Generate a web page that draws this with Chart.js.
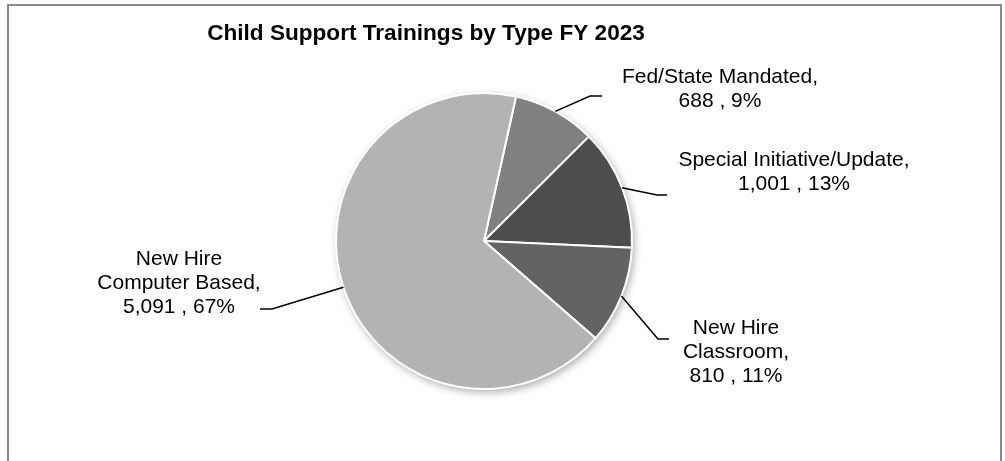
<!DOCTYPE html>
<html>
<head>
<meta charset="utf-8">
<title>Child Support Trainings by Type FY 2023</title>
<script src="https://cdn.jsdelivr.net/npm/chart.js@4.4.1/dist/chart.umd.min.js"></script>
<style>
  html, body { margin: 0; padding: 0; background: #fff; overflow: hidden; }
  #frame {
    position: absolute; left: 7px; top: 4px; width: 995px; height: 520px;
    border: 2px solid #8a8a8a; box-sizing: border-box;
  }
  #wrap { position: absolute; left: 0; top: 0; width: 1005px; height: 461px; }
</style>
</head>
<body>
<div id="frame"></div>
<div id="wrap"><canvas id="chart-trainings" width="1005" height="461"></canvas></div>
<script>
(function () {
  'use strict';

  var titleText = 'Child Support Trainings by Type FY 2023';
  var categories = ['Fed/State Mandated', 'Special Initiative/Update', 'New Hire\nClassroom', 'New Hire\nComputer Based'];
  var trainings = [688, 1001, 810, 5091];

  var sliceColors = ['#808080', '#4d4d4d', '#636363', '#b3b3b3'];
  var labelFont = '21px "Liberation Sans", Arial, sans-serif';
  var lineGap = 24;

  // label placement relative to pie centre: [centre x, first baseline]
  var labelPos = [[236, -158], [310, -75], [252, 93], [-305, 24]];
  // leader lines: elbow and end point relative to pie centre
  var leaderElbow = [[106, -145], [173, -46], [174, 98], [-212, 68]];
  var leaderEnd = [[118, -145], [183, -46], [185, 98], [-224, 68]];

  function labelLines(i, total) {
    var pct = Math.round(trainings[i] / total * 100);
    var lines = categories[i].split('\n');
    lines[lines.length - 1] += ',';
    lines.push(trainings[i].toLocaleString('en-US') + ' , ' + pct + '%');
    return lines;
  }

  var shadowPlugin = {
    id: 'pieShadow',
    beforeDatasetsDraw: function (chart) {
      var arc = chart.getDatasetMeta(0).data[0];
      if (!arc) return;
      var ctx = chart.ctx;
      ctx.save();
      ctx.shadowColor = 'rgba(0, 0, 0, 0.35)';
      ctx.shadowBlur = 8;
      ctx.shadowOffsetX = 2;
      ctx.shadowOffsetY = 3;
      ctx.fillStyle = '#fff';
      ctx.beginPath();
      ctx.arc(arc.x, arc.y, arc.outerRadius, 0, Math.PI * 2);
      ctx.fill();
      ctx.restore();
    }
  };

  var labelPlugin = {
    id: 'calloutLabels',
    afterDatasetsDraw: function (chart) {
      var ctx = chart.ctx;
      var arcs = chart.getDatasetMeta(0).data;
      var total = trainings.reduce(function (a, b) { return a + b; }, 0);
      ctx.save();
      for (var i = 0; i < arcs.length; i++) {
        var a = arcs[i];
        var mid = (a.startAngle + a.endAngle) / 2;
        var sx = a.x + Math.cos(mid) * a.outerRadius;
        var sy = a.y + Math.sin(mid) * a.outerRadius;
        ctx.strokeStyle = '#000';
        ctx.lineWidth = 1.5;
        ctx.beginPath();
        ctx.moveTo(sx, sy);
        ctx.lineTo(a.x + leaderElbow[i][0], a.y + leaderElbow[i][1]);
        ctx.lineTo(a.x + leaderEnd[i][0], a.y + leaderEnd[i][1]);
        ctx.stroke();

        var lines = labelLines(i, total);
        ctx.fillStyle = '#000';
        ctx.font = labelFont;
        ctx.textAlign = 'center';
        ctx.textBaseline = 'alphabetic';
        for (var j = 0; j < lines.length; j++) {
          ctx.fillText(lines[j], a.x + labelPos[i][0], a.y + labelPos[i][1] + j * lineGap);
        }
      }
      ctx.font = 'bold 22.6px "Liberation Sans", Arial, sans-serif';
      ctx.textAlign = 'center';
      ctx.fillText(titleText, 426, 40);
      ctx.restore();
    }
  };

  new Chart(document.getElementById('chart-trainings'), {
    type: 'pie',
    data: {
      labels: categories,
      datasets: [{
        data: trainings,
        backgroundColor: sliceColors,
        borderColor: '#ffffff',
        borderWidth: 2,
        radius: 148
      }]
    },
    options: {
      responsive: false,
      animation: false,
      rotation: 12.5,
      events: [],
      layout: { padding: { left: 0, right: 37, top: 60, bottom: 39 } },
      plugins: {
        legend: { display: false },
        tooltip: { enabled: false },
        title: { display: false }
      }
    },
    plugins: [shadowPlugin, labelPlugin]
  });
})();
</script>
</body>
</html>
